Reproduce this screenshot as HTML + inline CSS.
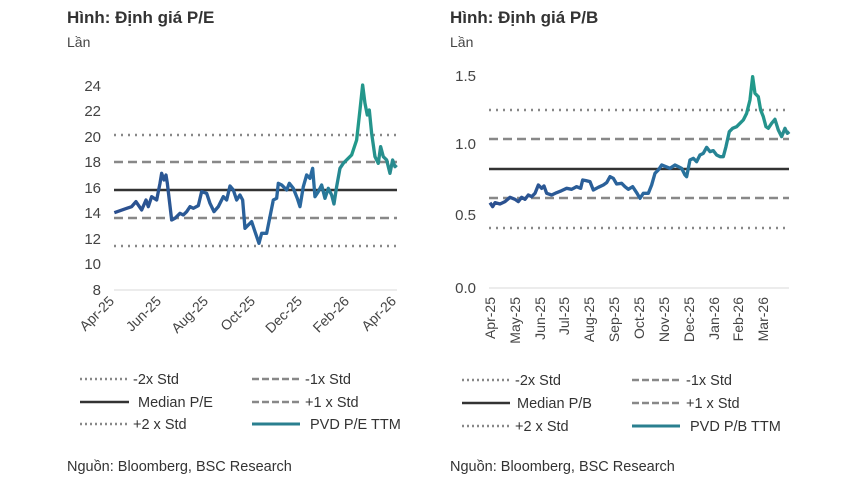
<!DOCTYPE html>
<html><head><meta charset="utf-8"><style>
body{margin:0;background:#fff;}
svg text{font-family:"Liberation Sans","DejaVu Sans",sans-serif;}
</style></head><body>
<svg width="853" height="491" viewBox="0 0 853 491" xmlns="http://www.w3.org/2000/svg">
<defs>
<linearGradient id="g1" gradientUnits="userSpaceOnUse" x1="163" y1="0" x2="1010" y2="0">
<stop offset="0" stop-color="#2b4f8f"/><stop offset="0.7" stop-color="#2a6aa0"/><stop offset="0.85" stop-color="#229a8a"/><stop offset="1" stop-color="#2a8a90"/></linearGradient>
<linearGradient id="g2" gradientUnits="userSpaceOnUse" x1="150" y1="0" x2="1048" y2="0">
<stop offset="0" stop-color="#2b4f8f"/><stop offset="0.6" stop-color="#2a6aa0"/><stop offset="0.88" stop-color="#229a8a"/><stop offset="1" stop-color="#2a8a90"/></linearGradient>
</defs>
<!-- LEFT -->
<text x="67" y="23" font-size="17" font-weight="bold" fill="#333">Hình:  Định giá P/E</text>
<text x="67" y="47" font-size="14" fill="#444">Lần</text>
<g font-size="15" fill="#444" text-anchor="end">
<text x="101" y="91">24</text><text x="101" y="116">22</text><text x="101" y="142">20</text><text x="101" y="167">18</text><text x="101" y="193">16</text><text x="101" y="218">14</text><text x="101" y="244">12</text><text x="101" y="269">10</text><text x="101" y="295">8</text>
</g>
<line x1="114" y1="290" x2="397" y2="290" stroke="#d9d9d9" stroke-width="1"/>
<g stroke-width="2.5" fill="none">
<line x1="114" y1="135" x2="397" y2="135" stroke="#888" stroke-dasharray="2,5"/>
<line x1="114" y1="162" x2="397" y2="162" stroke="#888" stroke-dasharray="9,5"/>
<line x1="114" y1="190" x2="397" y2="190" stroke="#333"/>
<line x1="114" y1="218" x2="397" y2="218" stroke="#888" stroke-dasharray="9,5"/>
<line x1="114" y1="246" x2="397" y2="246" stroke="#888" stroke-dasharray="2,5"/>
</g>
<g transform="translate(60,60) scale(0.3333)">
<polyline fill="none" stroke="url(#g1)" stroke-width="10" stroke-linejoin="round" points="163,458 215,440 228,425 245,450 258,420 265,440 275,410 290,420 300,370 305,340 312,360 318,345 322,370 335,480 345,475 360,460 370,465 380,455 390,440 400,445 415,437 425,395 440,400 450,430 462,455 475,440 490,410 500,420 510,378 520,390 530,420 540,405 548,420 555,505 565,495 575,485 585,515 597,550 605,520 620,520 630,470 640,420 650,415 655,370 665,375 680,390 688,370 700,385 712,415 720,440 730,380 740,345 750,355 758,325 765,410 775,395 785,375 795,415 805,385 815,405 822,432 830,380 840,325 850,310 860,300 875,285 890,240 900,150 908,75 915,130 922,165 928,150 935,220 945,290 955,310 962,260 970,290 980,300 990,340 998,300 1005,320 1010,315"/>
</g>
<g font-size="14" fill="#444" text-anchor="end">
<text transform="translate(115,302) rotate(-45)">Apr-25</text>
<text transform="translate(162,302) rotate(-45)">Jun-25</text>
<text transform="translate(209,302) rotate(-45)">Aug-25</text>
<text transform="translate(256,302) rotate(-45)">Oct-25</text>
<text transform="translate(303,302) rotate(-45)">Dec-25</text>
<text transform="translate(350,302) rotate(-45)">Feb-26</text>
<text transform="translate(397,302) rotate(-45)">Apr-26</text>
</g>
<g stroke-width="2.5">
<line x1="80" y1="379" x2="127" y2="379" stroke="#888" stroke-dasharray="2,3"/>
<line x1="80" y1="402" x2="129" y2="402" stroke="#333"/>
<line x1="80" y1="424" x2="127" y2="424" stroke="#888" stroke-dasharray="2,3"/>
<line x1="252" y1="379" x2="300" y2="379" stroke="#888" stroke-dasharray="7,3"/>
<line x1="252" y1="402" x2="300" y2="402" stroke="#888" stroke-dasharray="7,3"/>
<line x1="252" y1="424" x2="300" y2="424" stroke="#2a7f8f" stroke-width="3"/>
</g>
<g font-size="14.5" fill="#333">
<text x="133" y="384">-2x Std</text><text x="138" y="407">Median P/E</text><text x="133" y="429">+2 x Std</text>
<text x="305" y="384">-1x Std</text><text x="305" y="407">+1 x Std</text><text x="310" y="429">PVD P/E TTM</text>
<text x="67" y="471">Nguồn: Bloomberg, BSC Research</text>
</g>
<!-- RIGHT -->
<text x="450" y="23" font-size="17" font-weight="bold" fill="#333">Hình:  Định giá P/B</text>
<text x="450" y="47" font-size="14" fill="#444">Lần</text>
<g font-size="15" fill="#444" text-anchor="end">
<text x="476" y="81">1.5</text><text x="476" y="149">1.0</text><text x="476" y="220">0.5</text><text x="476" y="293">0.0</text>
</g>
<line x1="489" y1="288" x2="789" y2="288" stroke="#d9d9d9" stroke-width="1"/>
<g stroke-width="2.5" fill="none">
<line x1="489" y1="110" x2="789" y2="110" stroke="#888" stroke-dasharray="2,5"/>
<line x1="489" y1="139" x2="789" y2="139" stroke="#888" stroke-dasharray="9,5"/>
<line x1="489" y1="169" x2="789" y2="169" stroke="#333"/>
<line x1="489" y1="198" x2="789" y2="198" stroke="#888" stroke-dasharray="9,5"/>
<line x1="489" y1="228" x2="789" y2="228" stroke="#888" stroke-dasharray="2,5"/>
</g>
<g transform="translate(440,60) scale(0.3333)">
<polyline fill="none" stroke="url(#g2)" stroke-width="10" stroke-linejoin="round" points="150,428 158,440 165,428 180,432 195,425 210,412 225,418 235,425 245,412 255,418 265,405 275,410 285,400 295,375 305,385 312,378 320,400 335,405 350,398 365,392 380,385 395,388 410,380 422,385 428,360 438,362 450,365 460,390 475,382 490,375 500,368 510,350 520,355 530,372 545,370 555,380 565,388 578,380 590,398 600,415 610,400 625,400 635,375 645,340 655,330 665,315 678,320 690,325 705,315 715,320 725,325 735,345 740,350 750,300 760,295 770,305 780,285 790,280 800,262 810,275 820,272 830,285 840,290 850,290 858,260 868,215 878,205 890,200 900,190 910,180 920,160 930,120 938,50 945,100 955,110 962,150 970,170 978,200 985,205 995,190 1005,178 1015,210 1025,230 1035,205 1042,220 1048,215"/>
</g>
<g font-size="14" fill="#444" text-anchor="end">
<text transform="translate(495,297) rotate(-90)">Apr-25</text>
<text transform="translate(520,297) rotate(-90)">May-25</text>
<text transform="translate(545,297) rotate(-90)">Jun-25</text>
<text transform="translate(569,297) rotate(-90)">Jul-25</text>
<text transform="translate(594,297) rotate(-90)">Aug-25</text>
<text transform="translate(619,297) rotate(-90)">Sep-25</text>
<text transform="translate(644,297) rotate(-90)">Oct-25</text>
<text transform="translate(669,297) rotate(-90)">Nov-25</text>
<text transform="translate(694,297) rotate(-90)">Dec-25</text>
<text transform="translate(719,297) rotate(-90)">Jan-26</text>
<text transform="translate(743,297) rotate(-90)">Feb-26</text>
<text transform="translate(768,297) rotate(-90)">Mar-26</text>
</g>
<g stroke-width="2.5">
<line x1="462" y1="380" x2="510" y2="380" stroke="#888" stroke-dasharray="2,3"/>
<line x1="462" y1="403" x2="510" y2="403" stroke="#333"/>
<line x1="462" y1="426" x2="510" y2="426" stroke="#888" stroke-dasharray="2,3"/>
<line x1="632" y1="380" x2="680" y2="380" stroke="#888" stroke-dasharray="7,3"/>
<line x1="632" y1="403" x2="680" y2="403" stroke="#888" stroke-dasharray="7,3"/>
<line x1="632" y1="426" x2="680" y2="426" stroke="#2a7f8f" stroke-width="3"/>
</g>
<g font-size="14.5" fill="#333">
<text x="515" y="385">-2x Std</text><text x="517" y="408">Median P/B</text><text x="515" y="431">+2 x Std</text>
<text x="686" y="385">-1x Std</text><text x="686" y="408">+1 x Std</text><text x="690" y="431">PVD P/B TTM</text>
<text x="450" y="471">Nguồn: Bloomberg, BSC Research</text>
</g>
</svg>
</body></html>
